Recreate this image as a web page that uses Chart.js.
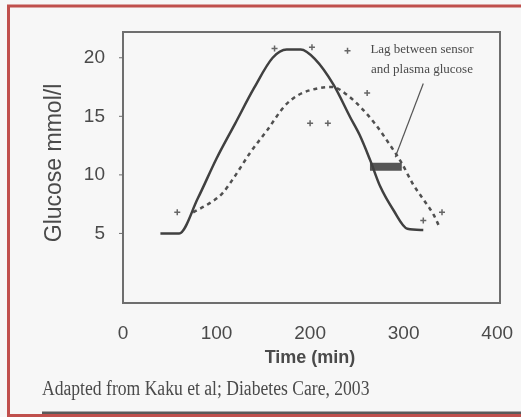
<!DOCTYPE html>
<html>
<head>
<meta charset="utf-8">
<script src="https://cdn.jsdelivr.net/npm/chart.js@4"></script>
<style>
  body { margin: 0; background: #f7f7f7; }
  canvas { display: block; }
</style>
</head>
<body>
<canvas id="glucose-chart" width="521" height="417"></canvas>
<script>
// Plasma glucose (solid line), time in min / glucose in mmol/l
const plasmaTime = [40, 60, 80, 100, 120, 140, 160, 175, 190, 205, 225, 243, 253, 264, 275, 289, 304, 321];
const plasmaGlucose = [5.0, 5.0, 8.0, 11.4, 14.4, 17.4, 20.0, 20.7, 20.7, 19.9, 17.7, 14.9, 13.4, 11.3, 9.0, 7.0, 5.4, 5.3];

// Sensor glucose (dashed line)
const sensorTime = [75, 95, 106, 118, 136, 154, 173, 187, 209, 224, 240, 255, 270, 285, 298, 310, 322, 332, 338];
const sensorGlucose = [6.8, 7.7, 8.4, 9.7, 11.9, 13.8, 15.9, 16.8, 17.4, 17.5, 16.8, 15.7, 14.3, 12.6, 11.0, 9.2, 7.8, 6.6, 5.6];

// Single measurements scattered around the curves
const pointTime = [58, 162, 202, 240, 200, 219, 261, 321, 341];
const pointGlucose = [6.8, 20.8, 20.9, 20.6, 14.4, 14.4, 17.0, 6.1, 6.8];

// Lag marker between the two curves and its pointer line
const lagTime = [264, 298];
const lagGlucose = [10.7, 10.7];
const pointerTime = [321, 291];
const pointerGlucose = [17.8, 11.5];

const xTicks = [0, 100, 200, 300, 400];
const yTicks = [5, 10, 15, 20];

const toPoints = (xs, ys) => xs.map((x, i) => ({ x, y: ys[i] }));

const tickFont = { family: "'Liberation Sans', sans-serif", size: 19 };

// Draws frame, titles, caption, note and the red border
const decorations = {
    id: 'decorations',
    beforeDraw(chart) {
        const ctx = chart.ctx;
        ctx.save();
        ctx.fillStyle = '#f7f7f7';
        ctx.fillRect(0, 0, chart.width, chart.height);
        ctx.restore();
    },
    afterDraw(chart) {
        const ctx = chart.ctx;
        const a = chart.chartArea;
        ctx.save();

        // plot frame
        ctx.strokeStyle = '#6e6e6e';
        ctx.lineWidth = 2;
        ctx.strokeRect(a.left, a.top, a.right - a.left, a.bottom - a.top);

        // y tick marks
        const ys = chart.scales.y;
        ctx.lineWidth = 1;
        yTicks.forEach((v) => {
            const py = ys.getPixelForValue(v);
            ctx.beginPath();
            ctx.moveTo(a.left - 4, py);
            ctx.lineTo(a.left, py);
            ctx.stroke();
        });

        ctx.fillStyle = '#4a4a4a';

        // x title
        ctx.font = "bold 18px 'Liberation Sans', sans-serif";
        ctx.textAlign = 'center';
        ctx.textBaseline = 'middle';
        ctx.fillText('Time (min)', 310, 358);

        // y title
        ctx.save();
        ctx.translate(55, 163);
        ctx.rotate(-Math.PI / 2);
        ctx.font = "23px 'Liberation Sans', sans-serif";
        ctx.fillText('Glucose mmol/l', 0, 0);
        ctx.restore();

        // note
        ctx.font = "13px 'Liberation Serif', serif";
        ctx.fillText('Lag between sensor', 422, 50);
        ctx.fillText('and plasma glucose', 422, 70);

        // caption, slightly condensed like the scan
        ctx.save();
        ctx.translate(42, 390);
        ctx.scale(0.88, 1);
        ctx.font = "20px 'Liberation Serif', serif";
        ctx.textAlign = 'left';
        ctx.fillText('Adapted from Kaku et al; Diabetes Care, 2003', 0, 0);
        ctx.restore();

        // dark strip at the bottom of the scan
        ctx.strokeStyle = '#5a5a5a';
        ctx.lineWidth = 3;
        ctx.beginPath();
        ctx.moveTo(42, 413);
        ctx.lineTo(chart.width, 413);
        ctx.stroke();

        // red border
        ctx.strokeStyle = '#c0504d';
        ctx.lineWidth = 3;
        ctx.beginPath();
        ctx.moveTo(chart.width, 6);
        ctx.lineTo(8.5, 6);
        ctx.lineTo(8.5, 415.5);
        ctx.lineTo(chart.width, 415.5);
        ctx.stroke();

        ctx.restore();
    },
};

new Chart(document.getElementById('glucose-chart'), {
    type: 'scatter',
    data: {
        datasets: [
            {
                label: 'Plasma glucose',
                data: toPoints(plasmaTime, plasmaGlucose),
                showLine: true,
                borderColor: '#404040',
                borderWidth: 2.5,
                pointRadius: 0,
                cubicInterpolationMode: 'monotone',
            },
            {
                label: 'Sensor glucose',
                data: toPoints(sensorTime, sensorGlucose),
                showLine: true,
                borderColor: '#505050',
                borderWidth: 2.5,
                borderDash: [4, 4],
                pointRadius: 0,
                cubicInterpolationMode: 'monotone',
            },
            {
                label: 'Points',
                data: toPoints(pointTime, pointGlucose),
                pointStyle: 'cross',
                pointRadius: 3,
                borderColor: '#666',
                borderWidth: 1.5,
            },
            {
                label: 'Lag',
                data: toPoints(lagTime, lagGlucose),
                showLine: true,
                borderColor: '#555',
                borderWidth: 8,
                pointRadius: 0,
            },
            {
                label: 'Pointer',
                data: toPoints(pointerTime, pointerGlucose),
                showLine: true,
                borderColor: '#555',
                borderWidth: 1.2,
                pointRadius: 0,
            },
        ],
    },
    options: {
        responsive: false,
        animation: false,
        layout: { padding: { left: 8, top: 32, right: 21, bottom: 44 } },
        plugins: {
            legend: { display: false },
            tooltip: { enabled: false },
        },
        scales: {
            x: {
                type: 'linear',
                min: 0,
                max: 403,
                afterFit: (scale) => {
                    scale.height = 70;
                    scale.paddingLeft = 0;
                    scale.paddingRight = 0;
                },
                afterBuildTicks: (scale) => { scale.ticks = xTicks.map((v) => ({ value: v })); },
                grid: { display: false, drawTicks: false },
                border: { display: false },
                ticks: { font: tickFont, color: '#4a4a4a', padding: 19, maxRotation: 0 },
            },
            y: {
                min: -0.94,
                max: 22.2,
                afterFit: (scale) => {
                    scale.width = 115;
                    scale.paddingTop = 0;
                    scale.paddingBottom = 0;
                },
                afterBuildTicks: (scale) => { scale.ticks = yTicks.map((v) => ({ value: v })); },
                grid: { display: false, drawTicks: false },
                border: { display: false },
                ticks: { font: tickFont, color: '#4a4a4a', padding: 18 },
            },
        },
    },
    plugins: [decorations],
});
</script>
</body>
</html>
